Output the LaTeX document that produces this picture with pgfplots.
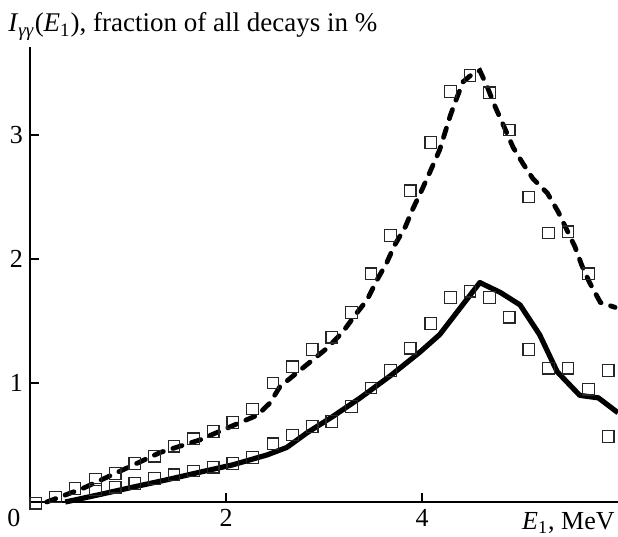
\documentclass[border=0pt]{standalone}
\usepackage{fontspec}
\setmainfont{Liberation Serif}
\usepackage{pgfplots}
\pgfplotsset{compat=1.18}
\usepackage{pgfplotstable}

\pgfplotstableread{
x y
0.06 0.03
0.26 0.08
0.46 0.15
0.67 0.22
0.87 0.27
1.07 0.35
1.27 0.41
1.47 0.49
1.67 0.55
1.87 0.61
2.07 0.68
2.27 0.79
2.48 1.00
2.68 1.13
2.88 1.27
3.08 1.37
3.28 1.57
3.48 1.88
3.68 2.19
3.88 2.55
4.09 2.94
4.29 3.35
4.49 3.48
4.69 3.34
4.89 3.04
5.09 2.50
5.29 2.21
5.49 2.22
5.70 1.88
5.90 1.10
}\upperpts

\pgfplotstableread{
x y
0.67 0.14
0.87 0.16
1.07 0.19
1.27 0.23
1.47 0.26
1.67 0.29
1.87 0.32
2.07 0.35
2.27 0.40
2.48 0.51
2.68 0.58
2.88 0.65
3.08 0.69
3.28 0.81
3.48 0.96
3.68 1.10
3.88 1.28
4.09 1.48
4.29 1.69
4.49 1.74
4.69 1.69
4.89 1.53
5.09 1.27
5.29 1.12
5.49 1.12
5.70 0.95
5.90 0.57
}\lowerpts

\pgfplotstableread{
x y
0.36 0.04
0.71 0.10
1.05 0.16
1.40 0.22
1.73 0.28
2.07 0.34
2.42 0.42
2.62 0.48
2.83 0.60
3.09 0.73
3.37 0.88
3.68 1.06
3.98 1.25
4.18 1.39
4.59 1.81
4.80 1.73
5.00 1.63
5.20 1.39
5.38 1.09
5.61 0.90
5.80 0.88
6.00 0.76
}\solidline

\pgfplotstableread{
x y
0.17 0.04
0.54 0.15
0.95 0.30
1.33 0.44
1.73 0.54
2.14 0.68
2.32 0.74
2.45 0.84
2.55 0.97
2.72 1.08
2.89 1.19
3.03 1.28
3.19 1.41
3.32 1.55
3.44 1.67
3.54 1.83
3.64 1.97
3.72 2.11
3.83 2.26
3.91 2.41
4.00 2.56
4.08 2.70
4.18 2.88
4.29 3.16
4.36 3.31
4.42 3.43
4.51 3.49
4.59 3.52
4.66 3.40
4.74 3.24
4.83 3.08
4.93 2.90
5.03 2.77
5.13 2.65
5.28 2.53
5.39 2.38
5.56 2.10
5.63 1.95
5.71 1.81
5.82 1.65
5.97 1.61
}\dashedline

\begin{document}
\begin{tikzpicture}
\begin{axis}[
  name=ax,
  scale only axis,
  width=294pt, height=227.5pt,
  xmin=0, xmax=6, ymin=0.04, ymax=3.71,
  axis lines=left,
  axis line style={-, line width=0.6pt},
  tick align=inside,
  major tick length=4.5pt,
  tick style={line width=0.6pt, black},
  xtick={2,4}, ytick={1,2,3},
  tick label style={font=\fontsize{13}{15}\selectfont},
  /pgf/number format/assume math mode=true,
  clip=false,
]
\addplot[black, line width=2.6pt, line join=round] table {\solidline};
\addplot[black, line width=2.4pt, line cap=round, dash pattern=on 4.8pt off 5pt] table {\dashedline};
\addplot[only marks, mark=square, mark size=2.9pt, mark options={black!85, line width=0.6pt, fill=white}] table {\upperpts};
\addplot[only marks, mark=square, mark size=2.9pt, mark options={black!85, line width=0.6pt, fill=white}] table {\lowerpts};
\node[anchor=north, font=\fontsize{13}{15}\selectfont, xshift=-8pt] at (axis cs:0,0.04) {0};
\node[anchor=north east, font=\fontsize{13}{15}\selectfont, inner sep=0pt, yshift=-5pt, xshift=-1.5pt] at (axis cs:6,0.04) {\textit{E}\textsubscript{1}, MeV};
\node[anchor=base west, font=\fontsize{13.5}{16}\selectfont, inner sep=0pt, xshift=-11pt, yshift=7.5pt] at (axis cs:0,3.71) {\textit{I}\textsubscript{\textit{γγ}}(\textit{E}\textsubscript{1}), fraction of all decays in \%};
\end{axis}
\pgfresetboundingbox
\path ([shift={(-15pt,-17pt)}]ax.south west) rectangle ([shift={(0pt,23.5pt)}]ax.north east);
\end{tikzpicture}
\end{document}
